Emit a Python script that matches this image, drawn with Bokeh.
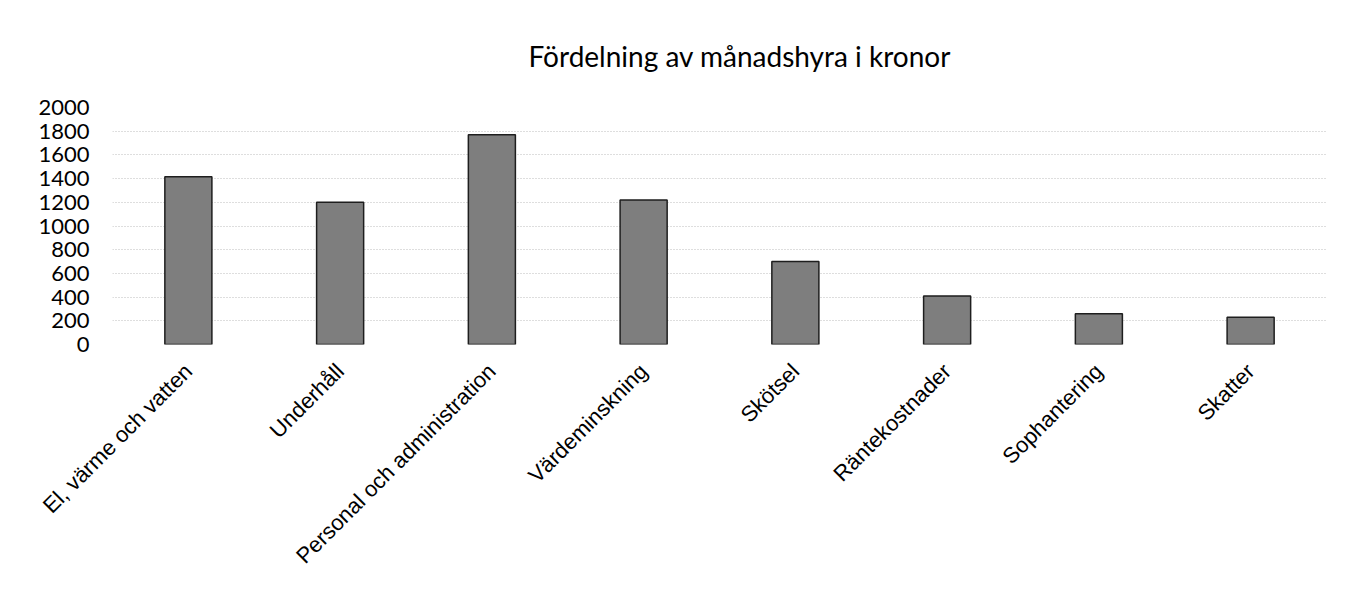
from math import pi
from bokeh.plotting import figure
from bokeh.models import FactorRange, Range1d, FixedTicker
from bokeh.embed import file_html
from bokeh.resources import INLINE

title_text = "Fördelning av månadshyra i kronor"
categories = ["El, värme och vatten", "Underhåll", "Personal och administration",
              "Värdeminskning", "Skötsel", "Räntekostnader", "Sophantering", "Skatter"]
values = [1415, 1200, 1770, 1220, 700, 410, 260, 230]
y_ticks = [0, 200, 400, 600, 800, 1000, 1200, 1400, 1600, 1800, 2000]

p = figure(width=1330, height=581, x_range=FactorRange(*categories, range_padding=0),
           y_range=Range1d(0, 2000), output_backend="svg", toolbar_location=None,
           min_border_left=112, min_border_right=4, min_border_top=107, min_border_bottom=237)

p.vbar(x=categories, top=values, width=0.31, fill_color="#7e7e7e",
       line_color="#1e1e1e", line_width=1.5)

p.title.text = title_text
p.title.align = "left"
p.title.offset = 416
p.title.text_font = "Lato"
p.title.text_font_size = "28px"
p.title.text_font_style = "normal"
p.title.text_color = "#000000"
p.title.standoff = 70

p.outline_line_color = None
p.xgrid.grid_line_color = None
p.ygrid.grid_line_color = "#bcbcbc"
p.ygrid.grid_line_dash = "1 2"
p.yaxis.ticker = FixedTicker(ticks=y_ticks)
p.yaxis.axis_line_color = None
p.yaxis.major_tick_line_color = None
p.yaxis.minor_tick_line_color = None
p.yaxis.major_label_text_font = "Lato"
p.yaxis.major_label_text_font_size = "22px"
p.yaxis.major_label_text_color = "#000000"
p.yaxis.major_label_standoff = 17

p.xaxis.axis_line_color = None
p.xaxis.major_tick_line_color = None
p.xaxis.minor_tick_line_color = None
p.xaxis.major_label_orientation = pi / 4
p.xaxis.major_label_text_font = "Liberation Sans"
p.xaxis.major_label_text_font_size = "22px"
p.xaxis.major_label_text_color = "#000000"
p.xaxis.major_label_standoff = 17

open("out.html", "w").write(file_html(p, INLINE))
